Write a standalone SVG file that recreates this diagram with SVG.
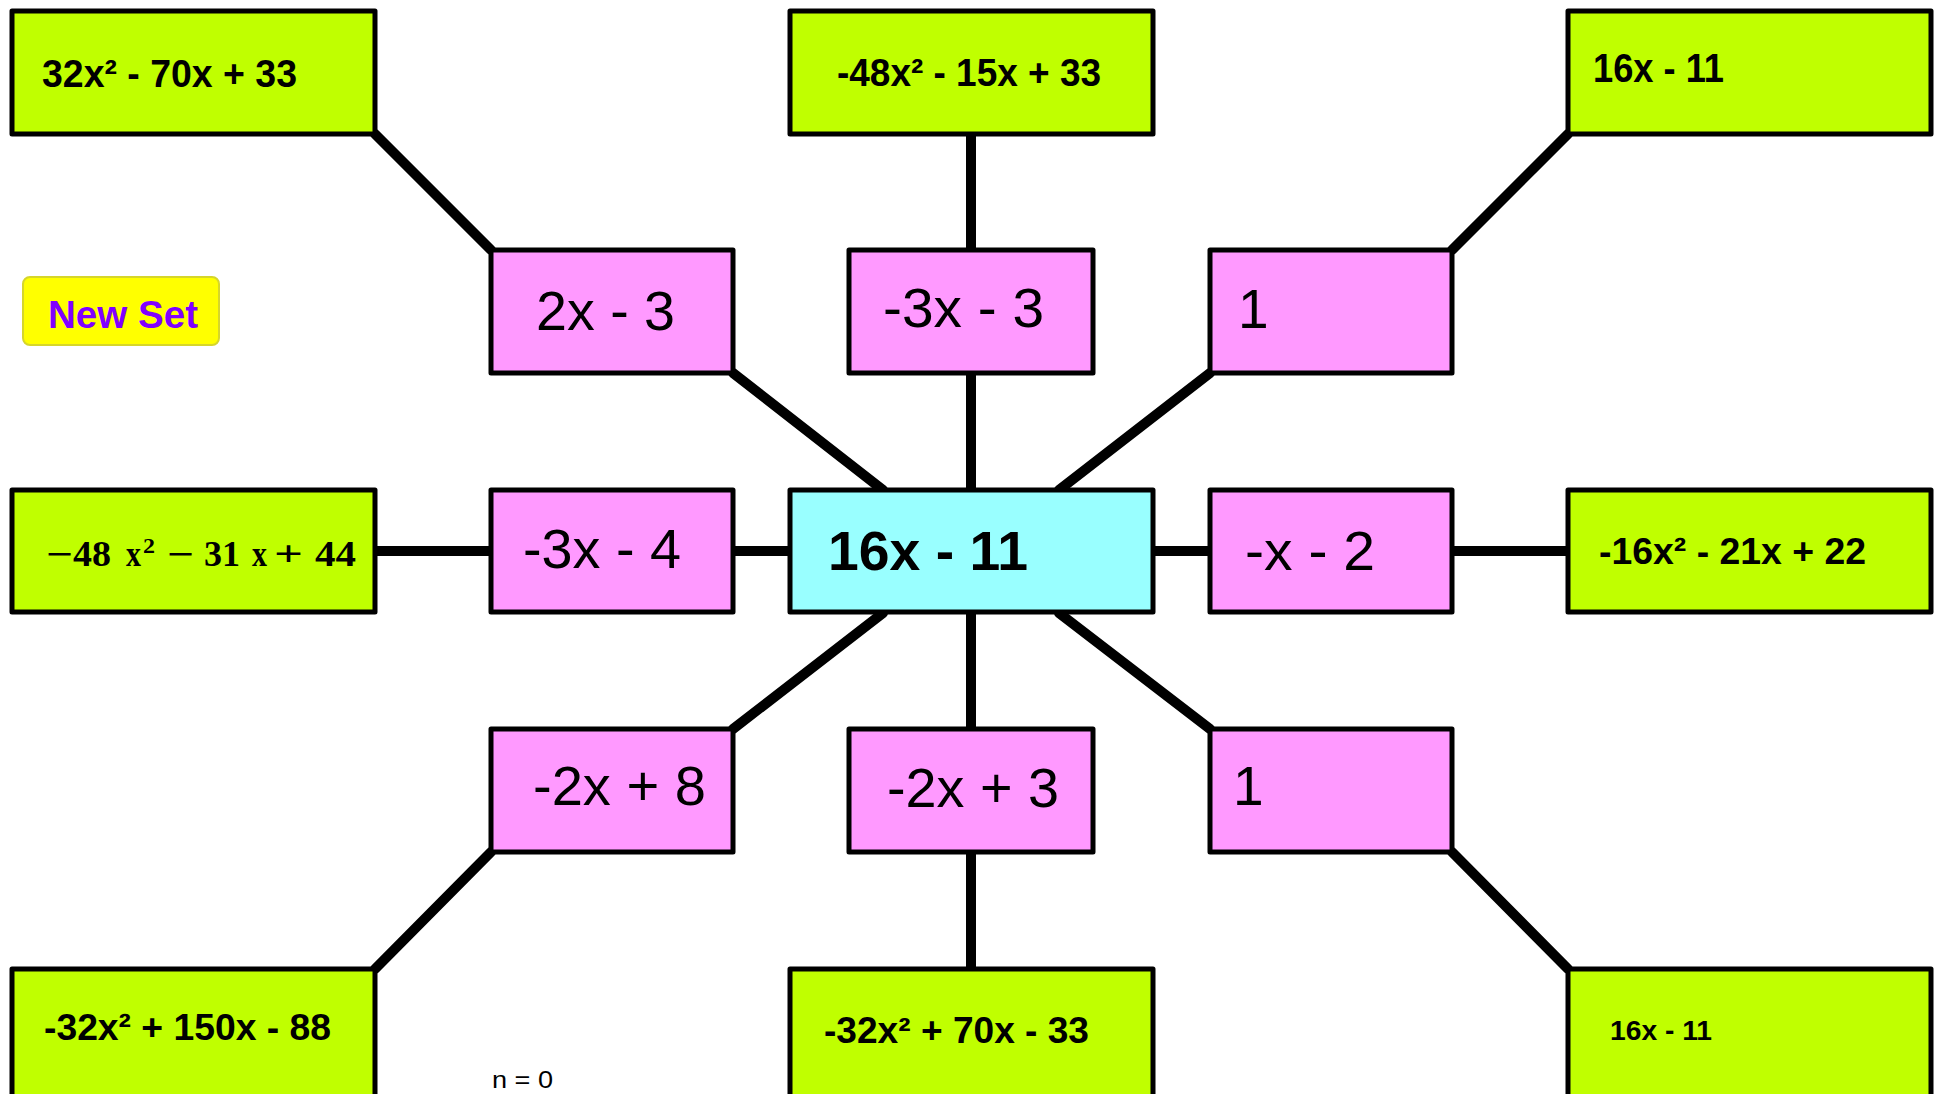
<svg xmlns="http://www.w3.org/2000/svg" width="1942" height="1094" viewBox="0 0 1942 1094">
<style>
.g{fill:#C0FF00;stroke:#000;stroke-width:5;stroke-linejoin:round}
.p{fill:#FF99FF;stroke:#000;stroke-width:5;stroke-linejoin:round}
.c{fill:#99FFFF;stroke:#000;stroke-width:5;stroke-linejoin:round}
#connectors line{stroke:#000;stroke-width:10;stroke-linecap:round}
.tb{font-family:"Liberation Sans",Arial,sans-serif;font-weight:bold;fill:#000}
.tr{font-family:"Liberation Sans",Arial,sans-serif;fill:#000}
.ts{font-family:"Liberation Serif","Times New Roman",serif;font-weight:bold;fill:#000;font-size:36px}
</style>
<rect width="1942" height="1094" fill="#fff"/>
<g id="connectors">
<line x1="375" y1="134" x2="491" y2="250"/>
<line x1="971" y1="134" x2="971" y2="250"/>
<line x1="1568" y1="134" x2="1452" y2="250"/>
<line x1="733" y1="373" x2="883" y2="490"/>
<line x1="971" y1="373" x2="971" y2="490"/>
<line x1="1210" y1="373" x2="1059" y2="490"/>
<line x1="375" y1="551" x2="491" y2="551"/>
<line x1="733" y1="551" x2="790" y2="551"/>
<line x1="1153" y1="551" x2="1210" y2="551"/>
<line x1="1452" y1="551" x2="1568" y2="551"/>
<line x1="883" y1="613" x2="733" y2="729"/>
<line x1="971" y1="613" x2="971" y2="729"/>
<line x1="1059" y1="613" x2="1210" y2="729"/>
<line x1="491" y1="852" x2="375" y2="969"/>
<line x1="971" y1="852" x2="971" y2="969"/>
<line x1="1452" y1="852" x2="1568" y2="969"/>
</g>
<g id="n-top-left"><rect class="g" x="12" y="11" width="363" height="123"/><text class="tb" x="42" y="87" font-size="38" textLength="255" lengthAdjust="spacingAndGlyphs">32x² - 70x + 33</text></g>
<g id="n-top-mid"><rect class="g" x="790" y="11" width="363" height="123"/><text class="tb" x="837" y="86" font-size="38" textLength="264" lengthAdjust="spacingAndGlyphs">-48x² - 15x + 33</text></g>
<g id="n-top-right"><rect class="g" x="1568" y="11" width="363" height="123"/><text class="tb" x="1593" y="82" font-size="40" textLength="131" lengthAdjust="spacingAndGlyphs">16x - 11</text></g>
<g id="btn-new-set"><rect x="23" y="277" width="196" height="68" rx="7" fill="#FFFF00" stroke="#D6D62A" stroke-width="2"/><text class="tb" x="48" y="328" font-size="38" style="fill:#8000FF" textLength="150" lengthAdjust="spacingAndGlyphs">New Set</text></g>
<g id="p-2x-3"><rect class="p" x="491" y="250" width="242" height="123"/><text class="tr" x="536" y="330" font-size="55" textLength="139" lengthAdjust="spacingAndGlyphs">2x - 3</text></g>
<g id="p-m3x-3"><rect class="p" x="849" y="250" width="244" height="123"/><text class="tr" x="883" y="327" font-size="55" textLength="161" lengthAdjust="spacingAndGlyphs">-3x - 3</text></g>
<g id="p-1-top"><rect class="p" x="1210" y="250" width="242" height="123"/><text class="tr" x="1238" y="328" font-size="55">1</text></g>
<g id="n-mid-left"><rect class="g" x="12" y="490" width="363" height="122"/>
<text class="ts" x="46" y="566" textLength="27" lengthAdjust="spacingAndGlyphs">−</text>
<text class="ts" x="73" y="566" textLength="38" lengthAdjust="spacingAndGlyphs">48</text>
<text class="ts" x="126" y="566" textLength="15" lengthAdjust="spacingAndGlyphs">x</text>
<text class="ts" x="143" y="553" style="font-size:22px" textLength="12" lengthAdjust="spacingAndGlyphs">2</text>
<text class="ts" x="167" y="566" textLength="27" lengthAdjust="spacingAndGlyphs">−</text>
<text class="ts" x="204" y="566" textLength="36" lengthAdjust="spacingAndGlyphs">31</text>
<text class="ts" x="252" y="566" textLength="15" lengthAdjust="spacingAndGlyphs">x</text>
<text class="ts" x="274" y="566" textLength="29" lengthAdjust="spacingAndGlyphs">+</text>
<text class="ts" x="315" y="566" textLength="41" lengthAdjust="spacingAndGlyphs">44</text>
</g>
<g id="p-m3x-4"><rect class="p" x="491" y="490" width="242" height="122"/><text class="tr" x="523" y="568" font-size="55" textLength="158" lengthAdjust="spacingAndGlyphs">-3x - 4</text></g>
<g id="center"><rect class="c" x="790" y="490" width="363" height="122"/><text class="tb" x="828" y="570" font-size="55" textLength="200" lengthAdjust="spacingAndGlyphs">16x - 11</text></g>
<g id="p-mx-2"><rect class="p" x="1210" y="490" width="242" height="122"/><text class="tr" x="1245" y="570" font-size="55" textLength="130" lengthAdjust="spacingAndGlyphs">-x - 2</text></g>
<g id="n-mid-right"><rect class="g" x="1568" y="490" width="363" height="122"/><text class="tb" x="1599" y="564" font-size="37" textLength="267" lengthAdjust="spacingAndGlyphs">-16x² - 21x + 22</text></g>
<g id="p-m2x-8"><rect class="p" x="491" y="729" width="242" height="123"/><text class="tr" x="533" y="805" font-size="55" textLength="173" lengthAdjust="spacingAndGlyphs">-2x + 8</text></g>
<g id="p-m2x-3"><rect class="p" x="849" y="729" width="244" height="123"/><text class="tr" x="887" y="807" font-size="55" textLength="172" lengthAdjust="spacingAndGlyphs">-2x + 3</text></g>
<g id="p-1-bottom"><rect class="p" x="1210" y="729" width="242" height="123"/><text class="tr" x="1233" y="805" font-size="55">1</text></g>
<g id="n-bot-left"><rect class="g" x="12" y="969" width="363" height="140"/><text class="tb" x="44" y="1040" font-size="37" textLength="287" lengthAdjust="spacingAndGlyphs">-32x² + 150x - 88</text></g>
<g id="n-bot-mid"><rect class="g" x="790" y="969" width="363" height="140"/><text class="tb" x="824" y="1043" font-size="36" textLength="265" lengthAdjust="spacingAndGlyphs">-32x² + 70x - 33</text></g>
<g id="n-bot-right"><rect class="g" x="1568" y="969" width="363" height="140"/><text class="tb" x="1610" y="1040" font-size="28" textLength="102" lengthAdjust="spacingAndGlyphs">16x - 11</text></g>
<text class="tr" x="492" y="1088" font-size="24" textLength="61" lengthAdjust="spacingAndGlyphs">n = 0</text>
</svg>
